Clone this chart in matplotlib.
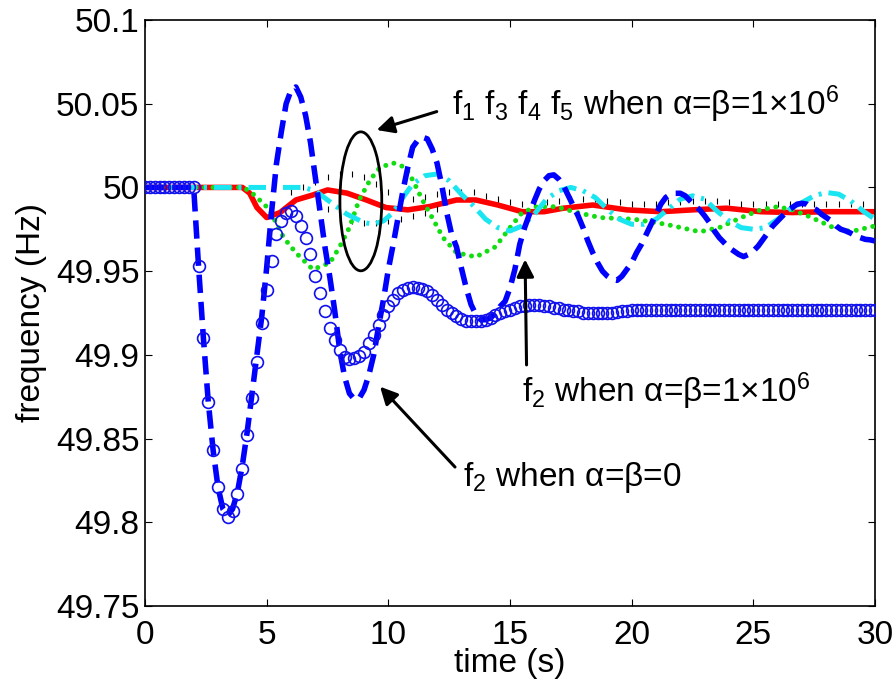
import numpy as np
import matplotlib
matplotlib.use("Agg")
import matplotlib.pyplot as plt
from matplotlib.patches import Ellipse

plt.rcParams['font.family'] = ['Liberation Sans', 'DejaVu Sans']
plt.rcParams['mathtext.fontset'] = 'custom'
plt.rcParams['mathtext.rm'] = 'Liberation Sans'
plt.rcParams['mathtext.it'] = 'Liberation Sans'
plt.rcParams['mathtext.default'] = 'regular'

# ---- data ----
t_blue = np.round(np.arange(0, 30.001, 0.2), 1)

f2_zero = [  # circles, f2 when alpha=beta=0
    50.000, 50.000, 50.000, 50.000, 50.000, 50.000, 50.000, 50.000, 50.000, 50.000,
    50.000, 49.953, 49.910, 49.872, 49.843, 49.821, 49.808, 49.803, 49.807, 49.817,
    49.832, 49.852, 49.874, 49.896, 49.919, 49.939, 49.956, 49.972, 49.980, 49.985,
    49.986, 49.983, 49.977, 49.970, 49.960, 49.947, 49.937, 49.926, 49.916, 49.909,
    49.903, 49.899, 49.8975, 49.898, 49.8995, 49.902, 49.907, 49.912, 49.918, 49.924,
    49.929, 49.933, 49.937, 49.939, 49.940, 49.9405, 49.940, 49.9395, 49.938, 49.936,
    49.933, 49.930, 49.927, 49.925, 49.923, 49.9215, 49.9205, 49.920, 49.920, 49.9205,
    49.921, 49.922, 49.924, 49.925, 49.926, 49.927, 49.928, 49.929, 49.929, 49.930,
    49.930, 49.930, 49.929, 49.929, 49.928, 49.928, 49.927, 49.927, 49.926, 49.926,
    49.925, 49.925, 49.925, 49.925, 49.925, 49.925, 49.925, 49.9255, 49.926, 49.926,
    49.9265, 49.927, 49.927, 49.927, 49.927, 49.927, 49.927, 49.927, 49.927, 49.927,
    49.927, 49.927, 49.927, 49.927, 49.927, 49.9265, 49.9265, 49.9265, 49.9265, 49.9265,
    49.9265, 49.9265, 49.9265, 49.9265, 49.9265, 49.9265, 49.9265, 49.9265, 49.9265, 49.9265,
    49.9265, 49.9265, 49.9265, 49.9265, 49.9265, 49.9265, 49.9265, 49.9265, 49.9265, 49.9265,
    49.9265, 49.9265, 49.9265, 49.9265, 49.9265, 49.9265, 49.9265, 49.9265, 49.9265, 49.9265,
    49.9265,
]

f2_big = [  # dashed blue, f2 when alpha=beta=1e6
    50.000, 50.000, 50.000, 50.000, 50.000, 50.000, 50.000, 50.000, 50.000, 50.000,
    50.000, 49.953, 49.910, 49.872, 49.843, 49.821, 49.808, 49.804, 49.808, 49.818,
    49.834, 49.854, 49.877, 49.900, 49.923, 49.952, 49.985, 50.014, 50.033, 50.050,
    50.058, 50.060, 50.054, 50.043, 50.027, 50.006, 49.985, 49.964, 49.946, 49.926,
    49.903, 49.887, 49.877, 49.8735, 49.874, 49.879, 49.888, 49.900, 49.917, 49.933,
    49.951, 49.966, 49.982, 49.998, 50.012, 50.024, 50.028, 50.030, 50.029, 50.023,
    50.0146, 50.001, 49.985, 49.972, 49.9645, 49.952, 49.940, 49.930, 49.924, 49.921,
    49.921, 49.922, 49.925, 49.929, 49.932, 49.940, 49.951, 49.966, 49.976, 49.984,
    49.992, 49.999, 50.004, 50.007, 50.0075, 50.005, 50.001, 49.995, 49.989, 49.983,
    49.976, 49.968, 49.961, 49.955, 49.950, 49.947, 49.945, 49.9445, 49.947, 49.951,
    49.955, 49.961, 49.966, 49.972, 49.978, 49.984, 49.990, 49.994, 49.996, 49.9965,
    49.9965, 49.995, 49.992, 49.989, 49.9866, 49.983, 49.979, 49.974, 49.970, 49.967,
    49.964, 49.962, 49.960, 49.9587, 49.960, 49.962, 49.965, 49.969, 49.973, 49.977,
    49.980, 49.983, 49.986, 49.988, 49.990, 49.9905, 49.990, 49.988, 49.9866, 49.984,
    49.982, 49.980, 49.977, 49.975, 49.974, 49.9727, 49.971, 49.970, 49.969, 49.9687,
    49.968,
]

t_green = [0, 4.0, 4.3, 4.6, 5.1, 5.7, 6.2, 6.9, 7.6, 8.0, 8.4, 8.8, 9.25, 9.66, 10.2,
           10.7, 11.0, 11.4, 11.8, 12.25, 12.8, 13.6, 14.4, 15.0, 15.5, 16.1, 16.9, 17.75,
           18.7, 20.1, 21.4, 22.8, 23.6, 24.5, 25.3, 26.0, 26.6, 27.3, 28.2, 29.0, 30.0]
f_green = [50.0, 50.0, 49.998, 49.994, 49.987, 49.970, 49.961, 49.951, 49.955, 49.9645,
           49.976, 49.9925, 50.0045, 50.012, 50.0146, 50.012, 50.0045, 49.9925, 49.982,
           49.970, 49.961, 49.9585, 49.9645, 49.976, 49.985, 49.9885, 49.9885, 49.985,
           49.982, 49.981, 49.978, 49.9735, 49.976, 49.982, 49.9866, 49.9885, 49.9866,
           49.9826, 49.9766, 49.9736, 49.977]

t_red = [0, 4.0, 4.3, 4.6, 5.0, 5.55, 6.2, 6.9, 7.5, 8.3, 9.1, 9.9, 10.8, 11.7, 12.8,
         13.6, 14.5, 15.5, 16.4, 17.2, 18.4, 19.8, 21.2, 22.5, 23.9, 25.3, 26.6, 28.0, 30.0]
f_red = [50.0, 50.0, 49.9966, 49.988, 49.982, 49.985, 49.9925, 49.9955, 49.9985, 49.9966,
         49.9925, 49.988, 49.9866, 49.9886, 49.9925, 49.9925, 49.9895, 49.9855, 49.9855,
         49.9876, 49.9895, 49.9866, 49.9855, 49.9866, 49.9876, 49.9855, 49.985, 49.9855,
         49.9855]

t_cyan = [0, 6.5, 7.0, 7.5, 8.3, 9.0, 9.4, 9.8, 10.2, 10.6, 11.0, 11.5, 12.0, 12.5, 13.0,
          13.5, 14.0, 14.5, 15.0, 15.5, 16.0, 16.5, 17.0, 17.5, 18.0, 18.5, 19.0, 19.5,
          20.0, 20.5, 21.0, 21.5, 22.0, 22.5, 23.0, 23.5, 24.0, 24.5, 25.0, 25.5, 26.0,
          26.5, 27.0, 27.5, 28.0, 28.5, 29.0, 29.5, 30.0]
f_cyan = [50.0, 50.0, 49.998, 49.9925, 49.984, 49.979, 49.978, 49.980, 49.985, 49.994,
          50.002, 50.007, 50.008, 50.004, 49.996, 49.989, 49.981, 49.976, 49.974, 49.977,
          49.984, 49.993, 49.998, 50.000, 49.998, 49.994, 49.987, 49.981, 49.978, 49.978,
          49.981, 49.987, 49.993, 49.995, 49.993, 49.986, 49.980, 49.976, 49.975, 49.976,
          49.981, 49.987, 49.991, 49.995, 49.997, 49.996, 49.992, 49.986, 49.981]

# black hatch marks (f1-like trace)
t_hatch_up = [6.0, 6.5, 7.0, 7.5, 8.0, 8.5, 9.0, 9.5, 10.0, 10.5, 11.0, 11.5, 12.0, 12.5,
              13.0, 13.5, 14.0, 14.5, 15.0, 15.5, 16.0, 16.5, 17.0, 17.5, 18.0, 18.5,
              19.0, 19.5, 20.0, 20.5, 21.0, 21.5, 22.0, 22.5, 23.0, 23.5, 24.0, 24.5,
              25.0, 25.5, 26.0, 26.5, 27.0, 27.5, 28.0, 28.5, 29.0, 29.5]
f_hatch_up = [49.997, 50.000, 50.003, 50.006, 50.008, 50.008, 50.006, 50.002, 49.997,
              49.994, 49.993, 49.994, 49.996, 49.997, 49.997, 49.997, 49.995, 49.993,
              49.991, 49.990, 49.990, 49.991, 49.992, 49.993, 49.993, 49.993, 49.992,
              49.991, 49.990, 49.990, 49.990, 49.991, 49.991, 49.992, 49.992, 49.992,
              49.991, 49.990, 49.990, 49.990, 49.990, 49.990, 49.990, 49.990, 49.990,
              49.990, 49.990, 49.990]
t_hatch_lo = [7.5, 8.0, 8.5, 9.0, 9.5, 10.0, 10.5, 11.0, 11.5, 12.0]
f_hatch_lo = [49.987, 49.983, 49.980, 49.979, 49.979, 49.980, 49.981, 49.983, 49.985, 49.987]

# ---- figure ----
fig = plt.figure(figsize=(8.96, 6.91), dpi=100)
ax = fig.add_axes([145/896, 85/691, 730/896, 586/691])

ax.plot(t_red, f_red, color='#ff0000', lw=4.0, zorder=2, solid_capstyle='butt')
ax.plot(t_hatch_up, f_hatch_up, ls='none', marker='|', ms=5, mew=0.8, color='k', zorder=2.5)
ax.plot(t_hatch_lo, f_hatch_lo, ls='none', marker='|', ms=5, mew=0.8, color='k', zorder=2.5)
ax.plot(t_green, f_green, color='#11dd11', lw=3.6, dashes=(0.001, 1.7),
        dash_capstyle='round', zorder=3)
ax.plot(t_cyan, f_cyan, color='#19e6f0', lw=3.6, dashes=(3.5, 1.4, 0.6, 1.4), zorder=4)
ax.plot(t_blue, f2_big, color='#0000ff', lw=4.0, dashes=(3.3, 1.6), zorder=5)
ax.plot(t_blue, f2_zero, ls='none', marker='o', ms=8.5, mfc='none', mec='#1010ee',
        mew=1.2, zorder=6)

ax.add_patch(Ellipse((8.87, 49.9917), 1.72, 0.083, fill=False, ec='k', lw=2.0, zorder=7))

arrow = dict(arrowstyle='-|>', lw=2.2, color='k', mutation_scale=26, shrinkA=0, shrinkB=0)
ax.annotate('', xy=(9.52, 50.0343), xytext=(11.99, 50.0453), arrowprops=arrow, zorder=8)
ax.annotate('', xy=(15.62, 49.957), xytext=(15.68, 49.894), arrowprops=arrow, zorder=8)
ax.annotate('', xy=(9.66, 49.881), xytext=(12.74, 49.833), arrowprops=arrow, zorder=8)

fs = 24
ax.text(12.62, 50.0433, 'f$_1$ f$_3$ f$_4$ f$_5$ when α=β=1×10$^6$', fontsize=fs,
        va='baseline', ha='left')
ax.text(15.48, 49.872, 'f$_2$ when α=β=1×10$^6$', fontsize=fs, va='baseline', ha='left')
ax.text(13.08, 49.8214, 'f$_2$ when α=β=0', fontsize=fs, va='baseline', ha='left')

ax.set_xlim(0, 30)
ax.set_ylim(49.75, 50.1)
ax.set_xticks([0, 5, 10, 15, 20, 25, 30])
ax.set_yticks([49.75, 49.8, 49.85, 49.9, 49.95, 50, 50.05, 50.1])
ax.set_yticklabels(['49.75', '49.8', '49.85', '49.9', '49.95', '50', '50.05', '50.1'])
ax.tick_params(direction='in', length=5, width=0.8, labelsize=fs, top=True, right=True,
               pad=4)
ax.tick_params(axis='x', pad=10)
for s in ax.spines.values():
    s.set_linewidth(1.2)
ax.set_xlabel('time (s)', fontsize=fs, labelpad=-2)
ax.set_ylabel('frequency (Hz)', fontsize=fs, labelpad=6)

fig.savefig('out.png', dpi=100)
